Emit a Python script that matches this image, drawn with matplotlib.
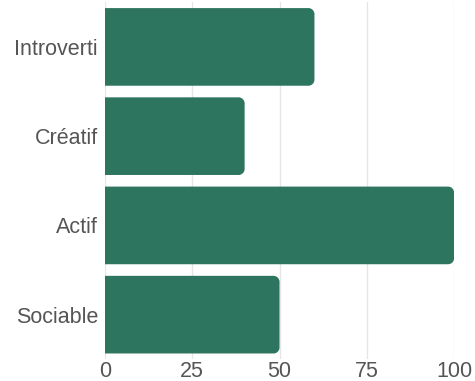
import matplotlib
matplotlib.use("Agg")
import matplotlib.pyplot as plt
from matplotlib.path import Path
from matplotlib.patches import PathPatch

categories = ["Introverti", "Créatif", "Actif", "Sociable"]
values = [60, 40, 100, 50]
xticks = [0, 25, 50, 75, 100]

BAR_COLOR = "#2e7560"
TEXT_COLOR = "#555555"
GRID_COLOR = "#e6e6e6"

plt.rcParams["font.family"] = ["Liberation Sans", "DejaVu Sans"]

fig = plt.figure(figsize=(4.75, 3.81), dpi=100)
ax = fig.add_axes([0.221, 0.057, 0.735, 0.937])

ax.set_xlim(0, 100)
ax.set_ylim(len(categories) - 0.5, -0.5)
fig.canvas.draw()

# pixel-to-data scale so the rounded corners stay circular
bbox = ax.get_window_extent()
px_x = 100 / bbox.width
px_y = len(categories) / bbox.height
radius_px = 6
rx, ry = radius_px * px_x, radius_px * px_y
k = 0.5523


def right_rounded_bar(y, w, h):
    y0, y1 = y - h / 2, y + h / 2
    r_x = min(rx, w / 2)
    verts = [
        (0, y0),
        (w - r_x, y0),
        (w - r_x + k * r_x, y0), (w, y0 + ry - k * ry), (w, y0 + ry),
        (w, y1 - ry),
        (w, y1 - ry + k * ry), (w - r_x + k * r_x, y1), (w - r_x, y1),
        (0, y1),
        (0, y0),
    ]
    codes = [Path.MOVETO, Path.LINETO,
             Path.CURVE4, Path.CURVE4, Path.CURVE4,
             Path.LINETO,
             Path.CURVE4, Path.CURVE4, Path.CURVE4,
             Path.LINETO, Path.CLOSEPOLY]
    return Path(verts, codes)


for i, v in enumerate(values):
    patch = PathPatch(right_rounded_bar(i, v, 0.87), facecolor=BAR_COLOR,
                      edgecolor="none", zorder=3)
    ax.add_patch(patch)

ax.set_yticks(range(len(categories)))
ax.set_yticklabels(categories)
ax.set_xticks(xticks)
ax.set_xticklabels([str(t) for t in xticks])

ax.tick_params(axis="both", length=0, labelsize=15.5, colors=TEXT_COLOR)
ax.tick_params(axis="y", pad=5)
ax.tick_params(axis="x", pad=1)

ax.grid(axis="x", color=GRID_COLOR, linewidth=1, zorder=0)
ax.set_axisbelow(True)
for s in ax.spines.values():
    s.set_visible(False)

fig.savefig("out.png", dpi=100)
